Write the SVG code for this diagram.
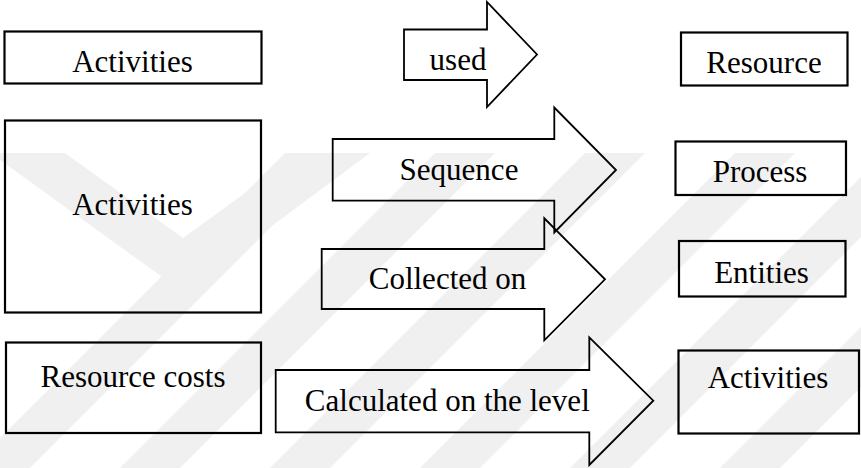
<svg xmlns="http://www.w3.org/2000/svg" width="861" height="468" viewBox="0 0 861 468">
<style>
.box{fill:none;stroke:#000;stroke-width:2.2}
.arr{fill:none;stroke:#000;stroke-width:1.8;stroke-linejoin:miter}
.t{font-family:"Liberation Serif","Times New Roman","DejaVu Serif",serif;font-size:31px;fill:#000;text-anchor:middle}
.wm{fill:#f0f0f0}
</style>
<defs>
<clipPath id="wmclip"><rect x="0" y="153" width="861" height="315"/></clipPath>
</defs>
<rect width="861" height="468" fill="#fff"/>
<g id="watermark" clip-path="url(#wmclip)">
<path class="wm" fill-rule="evenodd" d="M0,153 L370,153 L183,292 L0,160 Z M65,153 L300,153 L183,238 Z"/>
<path class="wm" d="M420,468 L480,468 L795,153 L735,153 Z M570,468 L630,468 L945,153 L885,153 Z M720,468 L780,468 L1095,153 L1035,153 Z M270,468 L330,468 L645,153 L585,153 Z M120,468 L180,468 L495,153 L435,153 Z M-30,468 L30,468 L345,153 L285,153 Z"/>
</g>
<g id="connectors">
<g id="arrow-used"><path class="arr" d="M404,29.5 H487 V2 L537,54.5 L487,107 V80 H404 Z"/><text class="t" x="458" y="70">used</text></g>
<g id="arrow-sequence"><path class="arr" d="M332.7,139 H554.3 V107.5 L616,170 L554.3,232.5 V200.7 H332.7 Z"/><text class="t" x="459" y="180">Sequence</text></g>
<g id="arrow-collected"><path class="arr" d="M321.7,249 H544.3 V218.3 L605,279.3 L544.3,340.3 V309 H321.7 Z"/><text class="t" x="447.5" y="289">Collected on</text></g>
<g id="arrow-calculated"><path class="arr" d="M275.7,370 H589.3 V337.3 L653.3,400.7 L589.3,465 V432.3 H275.7 Z"/><text class="t" x="447.3" y="410.7">Calculated on the level</text></g>
</g>
<g id="activities-1"><rect class="box" x="4.5" y="31.5" width="257" height="52"/><text class="t" x="132.5" y="72">Activities</text></g>
<g id="activities-2"><rect class="box" x="5" y="120.5" width="256" height="192"/><text class="t" x="132.5" y="215">Activities</text></g>
<g id="resource-costs"><rect class="box" x="6" y="342.5" width="255" height="90.5"/><text class="t" x="133" y="387">Resource costs</text></g>
<g id="resource"><rect class="box" x="681" y="32.5" width="166.5" height="53"/><text class="t" x="764" y="73.3">Resource</text></g>
<g id="process"><rect class="box" x="675.5" y="141.5" width="170.5" height="53.5"/><text class="t" x="760" y="181.7">Process</text></g>
<g id="entities"><rect class="box" x="679" y="241" width="166.5" height="55.5"/><text class="t" x="761.5" y="283.3">Entities</text></g>
<g id="activities-3"><rect class="box" x="678.5" y="350.5" width="180.5" height="83"/><text class="t" x="768" y="388.3">Activities</text></g>
</svg>
